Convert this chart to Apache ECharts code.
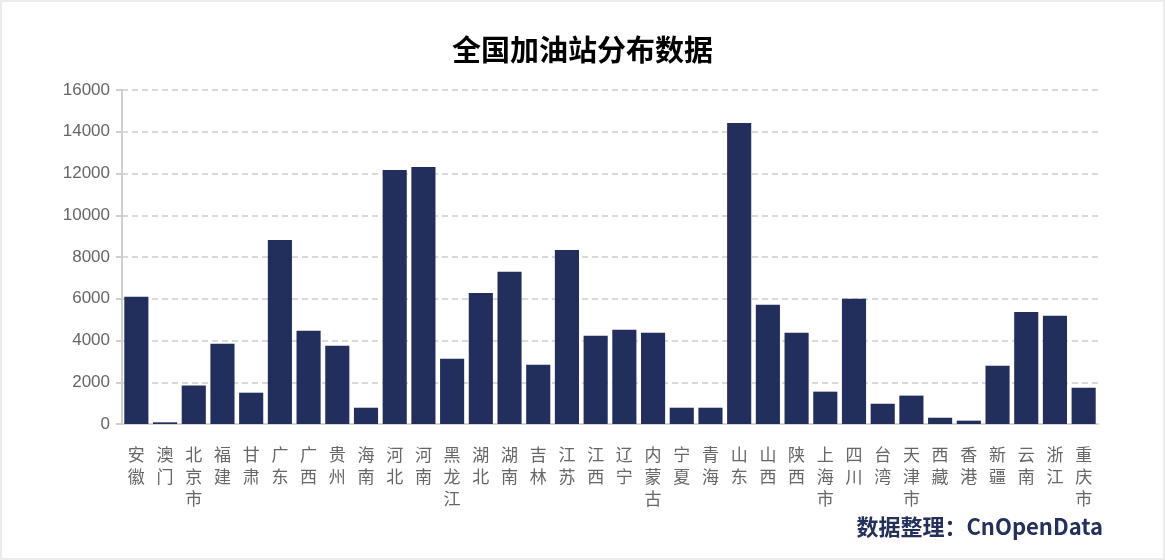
<!DOCTYPE html>
<html>
<head>
<meta charset="utf-8">
<script src="https://cdn.jsdelivr.net/npm/echarts@6/dist/echarts.min.js"></script>
<style>
html,body{margin:0;padding:0;background:#fff;}
#frame{box-sizing:border-box;width:1165px;height:560px;border:2px solid #ececec;}
#main{width:1161px;height:556px;}
</style>
</head>
<body>
<div id="frame"><div id="main"></div></div>
<script>
const categories = ['安徽','澳门','北京市','福建','甘肃','广东','广西','贵州','海南','河北','河南','黑龙江','湖北','湖南','吉林','江苏','江西','辽宁','内蒙古','宁夏','青海','山东','山西','陕西','上海市','四川','台湾','天津市','西藏','香港','新疆','云南','浙江','重庆市'];
const stationCounts = [6090,80,1850,3840,1500,8820,4470,3750,780,12170,12310,3130,6280,7290,2840,8340,4230,4510,4370,780,780,14420,5710,4370,1550,6000,970,1360,300,160,2790,5370,5180,1740];
const titleText = '全国加油站分布数据';
const sourceText = '数据整理：CnOpenData';

const chart = echarts.init(document.getElementById('main'));
chart.setOption({
  animation: false,
  textStyle: {fontFamily: '"Noto Sans CJK SC", "Noto Sans", sans-serif'},
  title: {
    text: titleText,
    left: 'center',
    top: 28,
    textStyle: {fontSize: 29, fontWeight: 'bold', color: '#000', fontFamily: '"Noto Sans CJK SC", sans-serif'}
  },
  grid: {left: 120, right: 65, top: 88, bottom: 134},
  xAxis: {
    type: 'category',
    data: categories,
    axisLine: {lineStyle: {color: '#d6d6d6', width: 2}},
    axisTick: {show: false},
    axisLabel: {
      interval: 0,
      margin: 20,
      color: '#666',
      fontSize: 17,
      lineHeight: 22,
      fontFamily: '"Noto Sans CJK SC", sans-serif',
      formatter: v => v.split('').join('\n')
    }
  },
  yAxis: {
    type: 'value',
    min: 0,
    max: 16000,
    interval: 2000,
    axisLine: {show: true, lineStyle: {color: '#cfcfcf', width: 2}},
    axisTick: {show: true, length: 6, lineStyle: {color: '#cfcfcf', width: 2}},
    axisLabel: {color: '#666', fontSize: 17, margin: 12, fontFamily: '"Liberation Sans", Arial, sans-serif', formatter: v => String(v)},
    splitLine: {lineStyle: {color: '#d9d9d9', type: [6, 4], width: 2}}
  },
  series: [{
    type: 'bar',
    data: stationCounts,
    barCategoryGap: '16%',
    itemStyle: {color: '#222e5c'}
  }],
  graphic: [{
    type: 'text',
    right: 60,
    top: 514,
    style: {
      text: sourceText,
      fontSize: 22,
      fontWeight: 'bold',
      fill: '#22305b',
      fontFamily: '"Noto Sans CJK SC", sans-serif'
    }
  }]
});
</script>
</body>
</html>
